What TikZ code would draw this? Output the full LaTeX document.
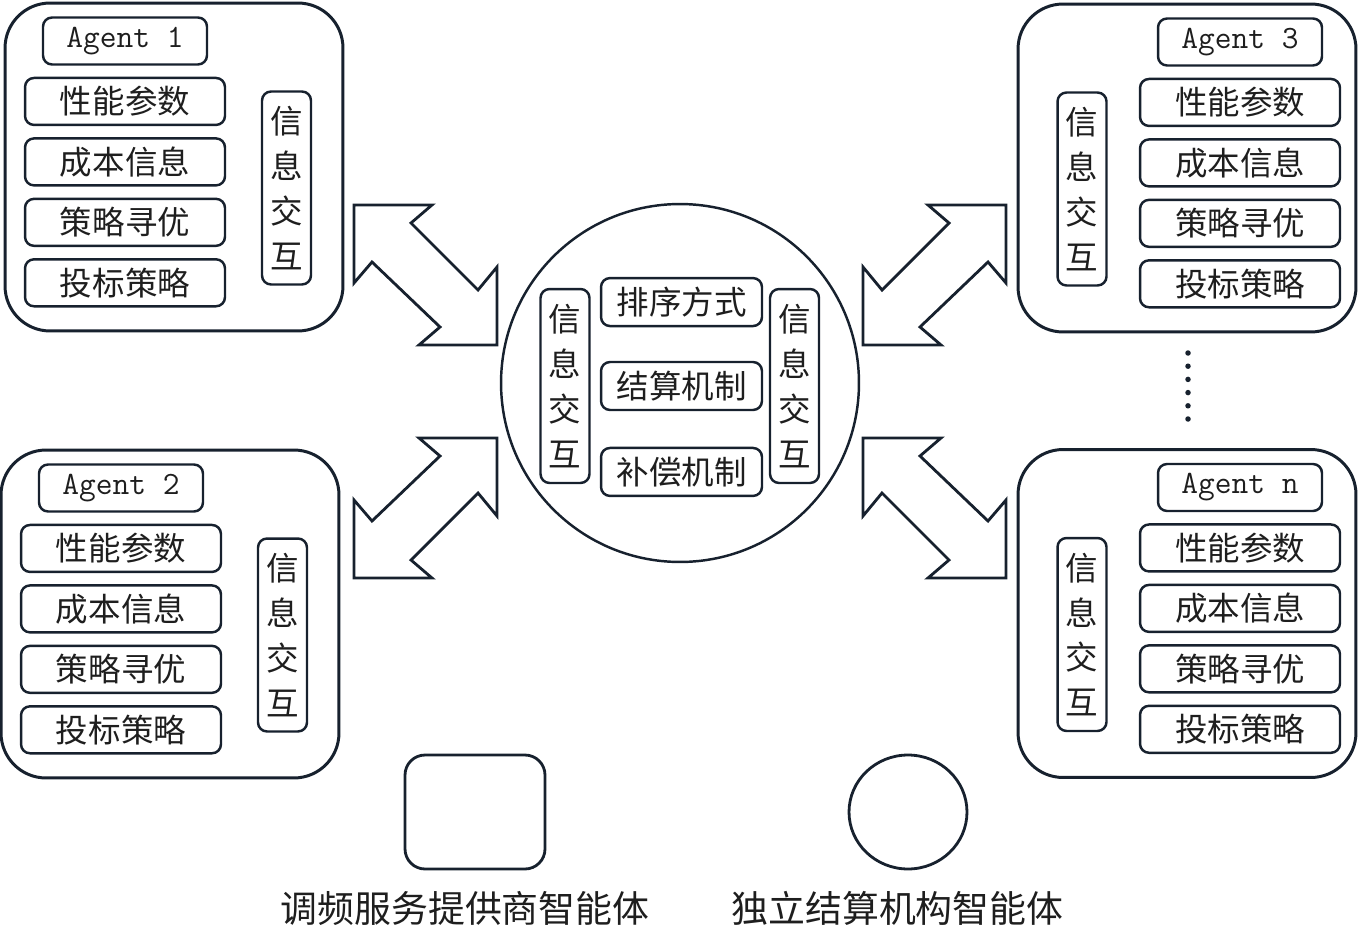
\documentclass[tikz,border=0pt]{standalone}
\usepackage{fontspec}
\setmainfont{Noto Sans CJK SC}
\usetikzlibrary{positioning,shapes.geometric}
\definecolor{edge}{HTML}{17212E}
\definecolor{ink}{HTML}{1E1E1E}
\tikzset{
	dblarr/.pic={
		\draw[line width=1.6pt,edge] (-71.5,-70) -- (6.5,-70) -- (-14.5,-52) -- (52.5,15) -- (71.5,-8)
			-- (71.5,70) -- (-6.5,70) -- (14.5,52) -- (-53.5,-13) -- (-71.5,8) -- cycle;
	}
}
\begin{document}
\begin{tikzpicture}[x=0.02cm,y=-0.02cm,
	every node/.style={text=ink},
	agentbox/.style={draw=edge,line width=1.7pt,rounded corners=0.9cm,minimum width=6.76cm,minimum height=6.56cm},
	inbox/.style={draw=edge,line width=1.4pt,rounded corners=0.18cm,inner sep=0pt},
	titlebox/.style={inbox,minimum width=3.28cm,minimum height=0.94cm,font=\ttfamily\fontsize{18.5}{20}\selectfont},
	itembox/.style={inbox,minimum width=4cm,minimum height=0.94cm,font=\fontsize{18.5}{20}\selectfont},
	vbox/.style={inbox,minimum width=0.98cm,minimum height=3.86cm,align=center,font=\fontsize{18.5}{25.5}\selectfont},
	midbox/.style={inbox,minimum width=3.22cm,minimum height=0.96cm,font=\fontsize{18.5}{20}\selectfont},
	legtext/.style={font=\fontsize{21}{24}\selectfont},
	node distance=0.22cm]
	\useasboundingbox (0,0) rectangle (1358,929);
	\foreach \nm/\lbl/\ox/\oy/\ix/\vx in {a/1/174/167/125/286.5, b/2/170/614/121/282.5, c/3/1187/168/1240/1082, d/n/1187/613.5/1240/1082}{
		\node[agentbox] (\nm) at (\ox,\oy) {};
		\node[titlebox] (\nm-t) at (\ix,\oy-126) {Agent \lbl};
		\node[itembox,below=of \nm-t] (\nm-1) {性能参数};
		\node[itembox,below=of \nm-1] (\nm-2) {成本信息};
		\node[itembox,below=of \nm-2] (\nm-3) {策略寻优};
		\node[itembox,below=of \nm-3] (\nm-4) {投标策略};
		\node[vbox] (\nm-v) at (\vx,\oy+21) {信\\息\\交\\互};
	}
	\foreach \i in {0,...,5}
		\fill[edge] (1188,353+13.2*\i) circle[radius=0.055cm];
	\node[circle,draw=edge,line width=1.4pt,minimum size=7.16cm] (ctr) at (680,383) {};
	\node[vbox,minimum height=3.88cm] (ctr-l) at (565,386) {信\\息\\交\\互};
	\node[vbox,minimum height=3.88cm] (ctr-r) at (794.5,386) {信\\息\\交\\互};
	\node[midbox] (ctr-2) at (681.5,386) {结算机制};
	\node[midbox,above=0.67cm of ctr-2] (ctr-1) {排序方式};
	\node[midbox,below=0.71cm of ctr-2] (ctr-3) {补偿机制};
	\pic at (425.5,275) {dblarr};
	\pic[yscale=-1] at (425.5,508) {dblarr};
	\pic[xscale=-1] at (934.5,275) {dblarr};
	\pic[xscale=-1,yscale=-1] at (934.5,508) {dblarr};
	\node[draw=edge,line width=1.6pt,rounded corners=0.4cm,minimum width=2.8cm,minimum height=2.28cm] (lsq) at (475,812) {};
	\node[draw=edge,line width=1.6pt,ellipse,minimum width=2.36cm,minimum height=2.28cm] (lci) at (908,812) {};
	\node[legtext] (lsq-t) at (465,908) {调频服务提供商智能体};
	\node[legtext] (lci-t) at (897.5,908) {独立结算机构智能体};
\end{tikzpicture}
\end{document}
